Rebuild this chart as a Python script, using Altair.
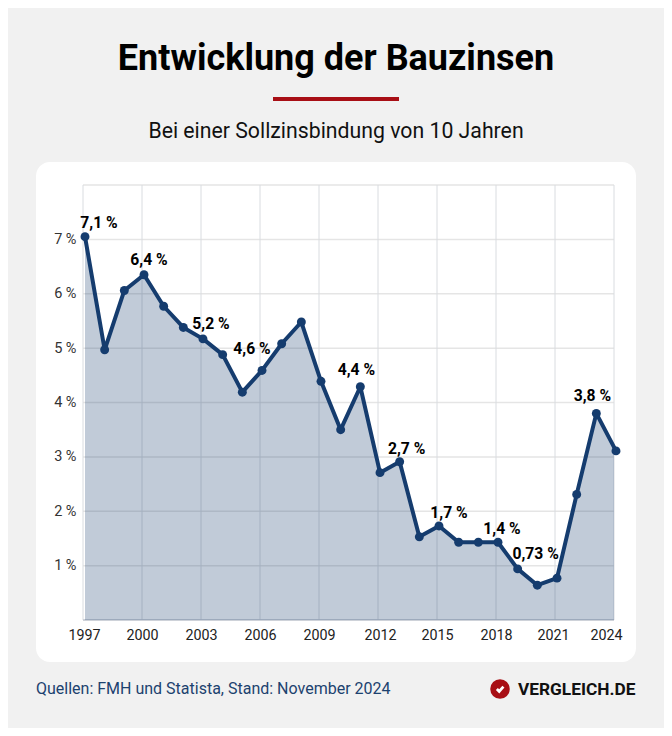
import altair as alt

years = list(range(1997, 2025))
rates = [7.05, 4.97, 6.06, 6.35, 5.77, 5.38, 5.17, 4.88, 4.19, 4.59, 5.08, 5.48, 4.39, 3.50,
         4.29, 2.71, 2.91, 1.53, 1.73, 1.43, 1.43, 1.43, 0.94, 0.64, 0.77, 2.31, 3.80, 3.11]
x_ticks = [1997, 2000, 2003, 2006, 2009, 2012, 2015, 2018, 2021, 2024]
y_ticks = [1, 2, 3, 4, 5, 6, 7]
y_grid = [0, 1, 2, 3, 4, 5, 6, 7, 8]
label_years = [1997, 2000, 2003, 2006, 2011, 2013, 2015, 2018, 2019, 2023]
label_values = [7.05, 6.35, 5.17, 4.59, 4.29, 2.91, 1.73, 1.43, 0.94, 3.80]
label_texts = ["7,1 %", "6,4 %", "5,2 %", "4,6 %", "4,4 %", "2,7 %", "1,7 %", "1,4 %", "0,73 %", "3,8 %"]
label_shift = [(14, -9), (5, -10), (8, -10), (-10, -16), (-4, -12), (7, -8), (10, -8), (4, -8), (18, -10), (-4, -12)]

NAVY = "#153c6e"
FONT = "Roboto"
W, H = 531, 435
PX, PY = 83, 185

one = alt.Data(values=[{"a": 1}])
data = alt.Data(values=[{"year": a, "rate": b} for a, b in zip(years, rates)])
ydom = alt.Scale(domain=[0, 8], range=[H, 0])
xaxis_scale = alt.Scale(domain=[1997, 2024], range=[0, W])
xdata_scale = alt.Scale(domain=[1997, 2024], range=[2, W + 2])


def px(v):
    return alt.value(v - PX)


def py(v):
    return alt.value(v - PY)


def txt(s, x, y, size, color="#000000", weight="normal", align="center"):
    return alt.Chart(one).mark_text(text=s, font=FONT, fontSize=size, color=color, fontWeight=weight,
                                    align=align, baseline="alphabetic").encode(x=px(x), y=py(y))


card = alt.Chart(one).mark_rect(color="#ffffff", cornerRadius=14).encode(x=px(36), x2=px(636), y=py(162), y2=py(662))
title = txt("Entwicklung der Bauzinsen", 336, 70, 36, weight="bold")
accent = alt.Chart(one).mark_rect(color="#a80f15").encode(x=px(273), x2=px(399), y=py(97), y2=py(101))
subtitle = txt("Bei einer Sollzinsbindung von 10 Jahren", 336, 138, 21.25, color="#111111")
source = txt("Quellen: FMH und Statista, Stand: November 2024", 36, 694, 16, color="#1c426f", align="left")
brand = txt("VERGLEICH.DE", 518, 695, 17.3, color="#111111", weight="bold", align="left")
logo = alt.Chart(one).mark_point(filled=True, color="#a80f15", size=380, opacity=1).encode(x=px(500), y=py(689))
check = alt.Chart(one).mark_point(shape="M-0.6,0 L-0.15,0.45 L0.65,-0.45", filled=False, stroke="#ffffff",
                                  strokeWidth=2.8, size=110, opacity=1).encode(x=px(500), y=py(689))

y_rules = alt.Chart(alt.Data(values=[{"v": v} for v in y_grid])).mark_rule(color="#e5e5e5", strokeWidth=1.5).encode(
    y=alt.Y("v:Q", scale=ydom, axis=alt.Axis(values=y_ticks, title=None, domain=False, ticks=False, grid=False,
                                             labelExpr="datum.value + ' %'", labelFont=FONT, labelFontSize=14.5,
                                             labelColor="#333333", labelPadding=7, zindex=1, labelFlush=False)))
x_rules = alt.Chart(alt.Data(values=[{"t": t} for t in x_ticks])).mark_rule(color="#d9dce0", strokeWidth=1).encode(
    x=alt.X("t:Q", scale=xaxis_scale,
            axis=alt.Axis(values=x_ticks, title=None, domain=False, ticks=False, grid=False, format="d",
                          labelFont=FONT, labelFontSize=14.3, labelColor="#222222", labelPadding=8, zindex=1,
                          labelFlush=False, labelOverlap=False,
                          labelOffset={"condition": [{"test": "datum.value == 2024", "value": -8},
                                                     {"test": "datum.value == 2021", "value": -2},
                                                     {"test": "datum.value == 2012", "value": 2},
                                                     {"test": "datum.value == 1997", "value": 1}],
                                       "value": 0})))
baseline = alt.Chart(alt.Data(values=[{"v": 0}])).mark_rule(color="#c4cad3", strokeWidth=1.5).encode(
    y=alt.Y("v:Q", scale=ydom))

enc_x = alt.X("year:Q", scale=xdata_scale, axis=None)
enc_y = alt.Y("rate:Q", scale=ydom)
area = alt.Chart(data).mark_area(color=NAVY, opacity=0.265, clip=True, line=False).encode(x=enc_x, y=enc_y)
line = alt.Chart(data).mark_line(color=NAVY, strokeWidth=4, strokeJoin="round").encode(x=enc_x, y=enc_y)
dots = alt.Chart(data).mark_circle(color=NAVY, size=80, opacity=1).encode(x=enc_x, y=enc_y)

value_labels = [
    alt.Chart(alt.Data(values=[{"year": a, "rate": b, "label": c}]))
    .mark_text(font=FONT, fontSize=15.7, fontWeight="bold", color="#000000", dx=s[0], dy=s[1], baseline="alphabetic")
    .encode(x=enc_x, y=enc_y, text="label:N")
    for a, b, c, s in zip(label_years, label_values, label_texts, label_shift)
]

chart = (
    alt.layer(card, title, accent, subtitle, source, brand, logo, check,
              y_rules, x_rules, baseline, area, line, dots, *value_labels)
    .resolve_scale(x="independent")
    .resolve_axis(x="independent")
    .properties(width=W, height=H, background="#f1f1f1",
                padding={"left": 75, "top": 177, "right": 50, "bottom": 108},
                autosize=alt.AutoSizeParams(type="none"))
    .configure_view(stroke=None)
)

chart.save("out.html", embed_options={"renderer": "svg", "actions": False})
